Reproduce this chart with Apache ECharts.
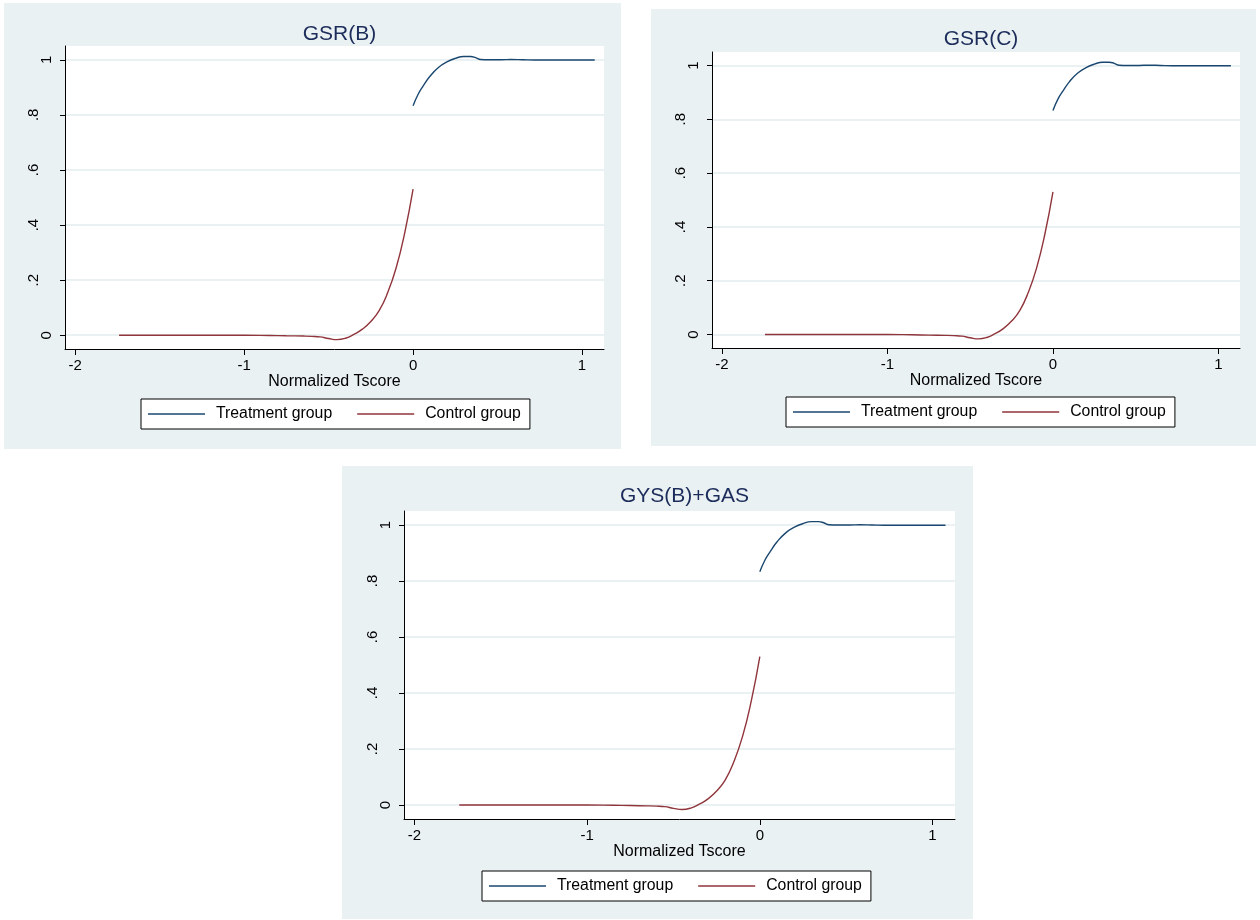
<!DOCTYPE html>
<html>
<head>
<meta charset="utf-8">
<script src="https://cdn.jsdelivr.net/npm/echarts@6/dist/echarts.min.js"></script>
<style>
  html, body { margin: 0; padding: 0; background: #ffffff; }
  #chart { width: 1260px; height: 920px; }
</style>
</head>
<body>
<div id="chart"></div>
<script>
// Panel titles and legend entries
const panelTitles = ['GSR(B)', 'GSR(C)', 'GYS(B)+GAS'];
const seriesNames = ['Treatment group', 'Control group'];
const xAxisName = 'Normalized Tscore';

// Treatment group curve (right of the cutoff)
const treatX = [0, 0.03, 0.06, 0.10, 0.15, 0.20, 0.25, 0.30, 0.34, 0.37, 0.40, 0.45, 0.52, 0.58, 0.65, 0.72, 0.80, 0.90, 1.00, 1.075];
const treatY = [0.833, 0.875, 0.905, 0.940, 0.972, 0.992, 1.005, 1.012, 1.012, 1.008, 1.001, 1.000, 1.000, 1.001, 1.000, 0.999, 0.999, 0.999, 0.999, 0.999];

// Control group curve (left of the cutoff)
const controlX = [-1.74, -1.5, -1.2, -1.0, -0.85, -0.75, -0.65, -0.60, -0.55, -0.50, -0.45, -0.40, -0.35, -0.30, -0.25, -0.20, -0.15, -0.10, -0.05, 0];
const controlY = [0, 0, 0, 0, -0.001, -0.002, -0.003, -0.004, -0.006, -0.012, -0.016, -0.011, 0.003, 0.022, 0.050, 0.090, 0.155, 0.245, 0.370, 0.530];

// Tick values
const xTicks = [-2, -1, 0, 1];
const yTicks = [0, 0.2, 0.4, 0.6, 0.8, 1];
const yLabelsWide = [0, 1];
const yLabelsDotted = [0.2, 0.4, 0.6, 0.8];

// Page layout: panel box, plot rectangle, title top, legend corner
const layout = [
  { box: [4, 3, 617, 446],   plot: [65, 46, 539, 303],  titleTop: 19,  legend: [141, 399] },
  { box: [651, 9, 605, 437], plot: [712, 52, 528, 296], titleTop: 24,  legend: [786, 397] },
  { box: [342, 466, 631, 453], plot: [404, 511, 551, 308], titleTop: 481, legend: [482, 871] }
];

const FONT = '"Liberation Sans", Arial, Helvetica, sans-serif';
const PANEL_BG = '#EAF1F3';
const GRID_LINE = '#E3ECEE';
const TITLE_COLOR = '#1c2c5a';
const TREAT_COLOR = '#1a476f';
const CONTROL_COLOR = '#90353b';

const zip = (xs, ys) => xs.map((x, i) => [x, ys[i]]);
const yFmt = v => (v === 0 ? '0' : v === 1 ? '1' : String(v).replace(/^0/, ''));

const grid = [], xAxis = [], yAxis = [], series = [], title = [], legend = [], graphics = [];

layout.forEach((p, i) => {
  graphics.push({
    type: 'rect', z: -10, silent: true,
    shape: { x: p.box[0], y: p.box[1], width: p.box[2], height: p.box[3] },
    style: { fill: PANEL_BG }
  });

  grid.push({
    left: p.plot[0], top: p.plot[1], width: p.plot[2], height: p.plot[3],
    show: true, backgroundColor: '#ffffff', borderWidth: 0,
    containLabel: false, outerBoundsMode: 'none'
  });

  title.push({
    text: panelTitles[i],
    left: p.plot[0] + p.plot[2] / 2, top: p.titleTop, textAlign: 'center',
    textStyle: { fontFamily: FONT, fontSize: 21, fontWeight: 'normal', color: TITLE_COLOR }
  });

  xAxis.push({
    type: 'value', gridIndex: i, min: -2.06, max: 1.13, position: 'bottom',
    axisLine: { show: true, onZero: false, lineStyle: { color: '#000', width: 1 } },
    axisTick: { show: true, length: 6, customValues: xTicks, lineStyle: { color: '#000', width: 1 } },
    axisLabel: { customValues: xTicks, margin: 9, fontFamily: FONT, fontSize: 15, color: '#000',
                 formatter: v => String(v) },
    splitLine: { show: false },
    name: xAxisName, nameLocation: 'middle', nameGap: 24,
    nameTextStyle: { fontFamily: FONT, fontSize: 16, color: '#000' }
  });

  // main y axis: line, ticks, gridlines and the 0 / 1 labels
  yAxis.push({
    type: 'value', gridIndex: i, min: -0.05, max: 1.05, position: 'left',
    axisLine: { show: true, onZero: false, lineStyle: { color: '#000', width: 1 } },
    axisTick: { show: true, length: 5, customValues: yTicks, lineStyle: { color: '#000', width: 1 } },
    axisLabel: { customValues: yLabelsWide, rotate: 90, margin: 11, fontFamily: FONT, fontSize: 15,
                 color: '#000', formatter: yFmt },
    splitLine: { show: true, lineStyle: { color: GRID_LINE, width: 1.5 } }
  });
  // companion y axis carrying the decimal labels, set further out
  yAxis.push({
    type: 'value', gridIndex: i, min: -0.05, max: 1.05, position: 'left',
    axisLine: { show: false, onZero: false },
    axisTick: { show: false },
    axisLabel: { customValues: yLabelsDotted, rotate: 90, margin: 24, fontFamily: FONT, fontSize: 15,
                 color: '#000', formatter: yFmt },
    splitLine: { show: false }
  });

  legend.push({
    data: seriesNames, left: p.legend[0], top: p.legend[1], orient: 'horizontal',
    icon: 'rect', itemWidth: 57, itemHeight: 1.5, itemGap: 25,
    itemStyle: { borderWidth: 0 },
    backgroundColor: '#ffffff', borderColor: '#000', borderWidth: 1, borderRadius: 0,
    padding: [7, 9, 7, 7], selectedMode: false,
    formatter: n => '{t|' + n + '}',
    textStyle: { fontFamily: FONT, fontSize: 15.8, color: '#000',
                 rich: { t: { fontFamily: FONT, fontSize: 15.8, color: '#000', padding: [0, 0, 0, 6] } } }
  });

  series.push({
    name: seriesNames[0], type: 'line', xAxisIndex: i, yAxisIndex: 2 * i,
    data: zip(treatX, treatY), showSymbol: false, symbol: 'none',
    smooth: 0.5, color: TREAT_COLOR,
    lineStyle: { color: TREAT_COLOR, width: 1.4 }, itemStyle: { color: TREAT_COLOR },
    animation: false
  });
  series.push({
    name: seriesNames[1], type: 'line', xAxisIndex: i, yAxisIndex: 2 * i,
    data: zip(controlX, controlY), showSymbol: false, symbol: 'none',
    smooth: 0.5, color: CONTROL_COLOR,
    lineStyle: { color: CONTROL_COLOR, width: 1.4 }, itemStyle: { color: CONTROL_COLOR },
    animation: false
  });
});

const chart = echarts.init(document.getElementById('chart'), null, { renderer: 'canvas' });
chart.setOption({
  animation: false,
  backgroundColor: '#ffffff',
  textStyle: { fontFamily: FONT },
  graphic: { z: -10, elements: graphics },
  title, legend, grid, xAxis, yAxis, series
});
</script>
</body>
</html>
